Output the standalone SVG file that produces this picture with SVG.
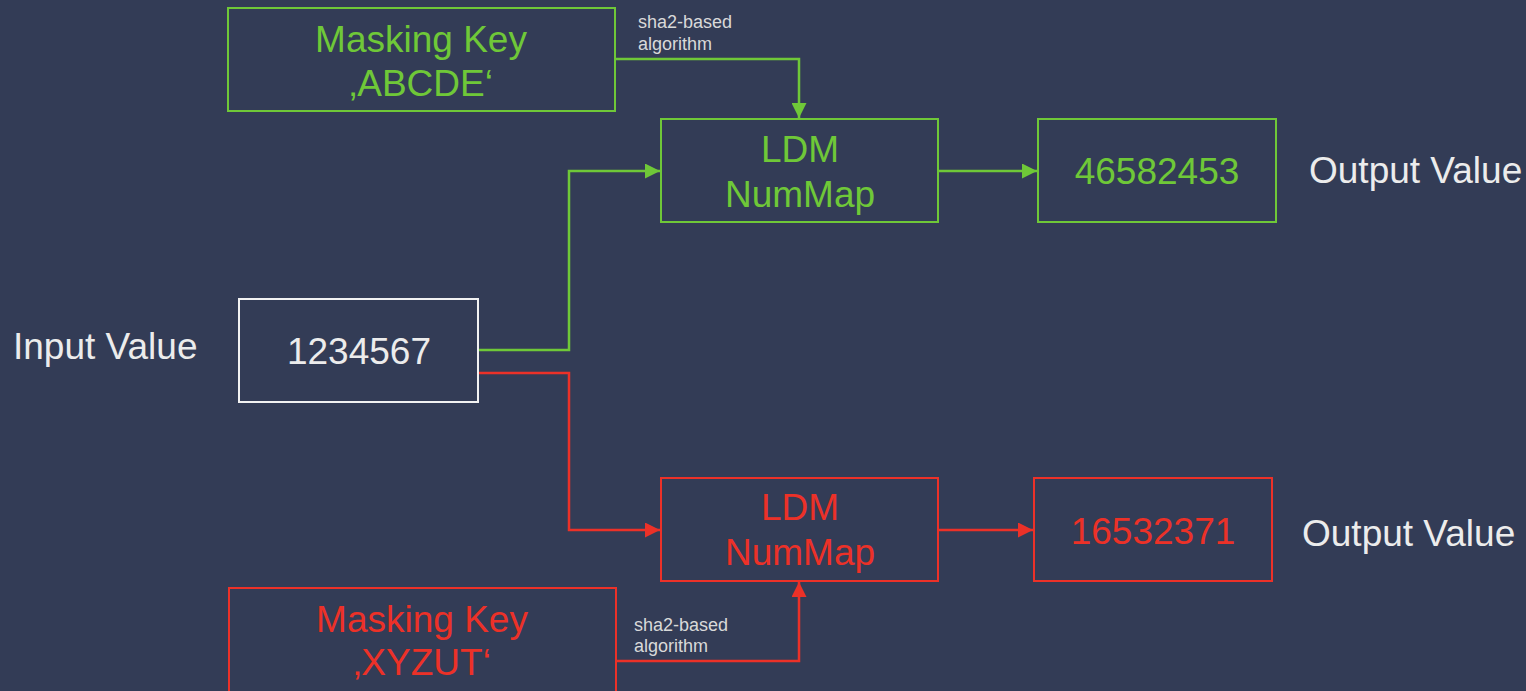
<svg xmlns="http://www.w3.org/2000/svg" width="1526" height="691" viewBox="0 0 1526 691" font-family="'Liberation Sans', Arial, sans-serif">
  <style>
    .box { fill: #333c56; stroke-width: 2; }
    .g { stroke: #6fc838; }
    .r { stroke: #ec3128; }
    .w { stroke: #f2f2f2; }
    .t { font-size: 37px; }
    .tg { fill: #6fc838; }
    .tr { fill: #ec3128; }
    .tw { fill: #ececec; }
    .small { font-size: 18px; fill: #d9d9d9; }
    .line { fill: none; stroke-width: 2.5; }
  </style>
  <defs>
    <marker id="arrowG" markerWidth="15" markerHeight="15" refX="15" refY="7.5" orient="auto" markerUnits="userSpaceOnUse" viewBox="0 0 15 15">
      <path d="M0,0 L15,7.5 L0,15 Z" fill="#6fc838"/>
    </marker>
    <marker id="arrowR" markerWidth="15" markerHeight="15" refX="15" refY="7.5" orient="auto" markerUnits="userSpaceOnUse" viewBox="0 0 15 15">
      <path d="M0,0 L15,7.5 L0,15 Z" fill="#ec3128"/>
    </marker>
  </defs>
  <rect width="1526" height="691" fill="#333c56"/>

  <!-- connectors -->
  <g id="connectors">
    <path class="line g" d="M478,350 H569 V171 H660" marker-end="url(#arrowG)"/>
    <path class="line r" d="M478,373 H569 V530 H660" marker-end="url(#arrowR)"/>
    <path class="line g" d="M615,59 H799 V118" marker-end="url(#arrowG)"/>
    <path class="line r" d="M616,661 H799 V582" marker-end="url(#arrowR)"/>
    <path class="line g" d="M938,171 H1037" marker-end="url(#arrowG)"/>
    <path class="line r" d="M938,530 H1033" marker-end="url(#arrowR)"/>
    <text class="small" x="638" y="28">sha2-based</text>
    <text class="small" x="638" y="50">algorithm</text>
    <text class="small" x="634" y="631">sha2-based</text>
    <text class="small" x="634" y="652">algorithm</text>
  </g>

  <!-- key ABCDE -->
  <g id="key-green">
    <rect class="box g" x="228" y="8" width="387" height="103"/>
    <text class="t tg" x="421" y="52" text-anchor="middle">Masking Key</text>
    <text class="t tg" x="421" y="96" text-anchor="middle">‚ABCDE‘</text>
  </g>

  <!-- numeric mapper (green) -->
  <g id="ldm-green">
    <rect class="box g" x="661" y="119" width="277" height="103"/>
    <text class="t tg" x="800" y="162" text-anchor="middle">LDM</text>
    <text class="t tg" x="800" y="207" text-anchor="middle">NumMap</text>
  </g>

  <g id="out-green">
    <rect class="box g" x="1038" y="119" width="238" height="103"/>
    <text class="t tg" x="1157" y="184" text-anchor="middle">46582453</text>
  </g>
  <text id="label-out-green" class="t tw" x="1309" y="183">Output Value</text>

  <!-- input -->
  <text id="label-input" class="t tw" x="13" y="359">Input Value</text>
  <g id="input">
    <rect class="box w" x="239" y="299" width="239" height="103"/>
    <text class="t tw" x="359" y="364" text-anchor="middle">1234567</text>
  </g>

  <!-- numeric mapper (red) -->
  <g id="ldm-red">
    <rect class="box r" x="661" y="478" width="277" height="103"/>
    <text class="t tr" x="800" y="520" text-anchor="middle">LDM</text>
    <text class="t tr" x="800" y="565" text-anchor="middle">NumMap</text>
  </g>

  <g id="out-red">
    <rect class="box r" x="1034" y="478" width="238" height="103"/>
    <text class="t tr" x="1153" y="544" text-anchor="middle">16532371</text>
  </g>
  <text id="label-out-red" class="t tw" x="1302" y="546">Output Value</text>

  <!-- key XYZUT -->
  <g id="key-red">
    <rect class="box r" x="229" y="588" width="387" height="110"/>
    <text class="t tr" x="422" y="632" text-anchor="middle">Masking Key</text>
    <text class="t tr" x="422" y="675" text-anchor="middle">‚XYZUT‘</text>
  </g>
</svg>
